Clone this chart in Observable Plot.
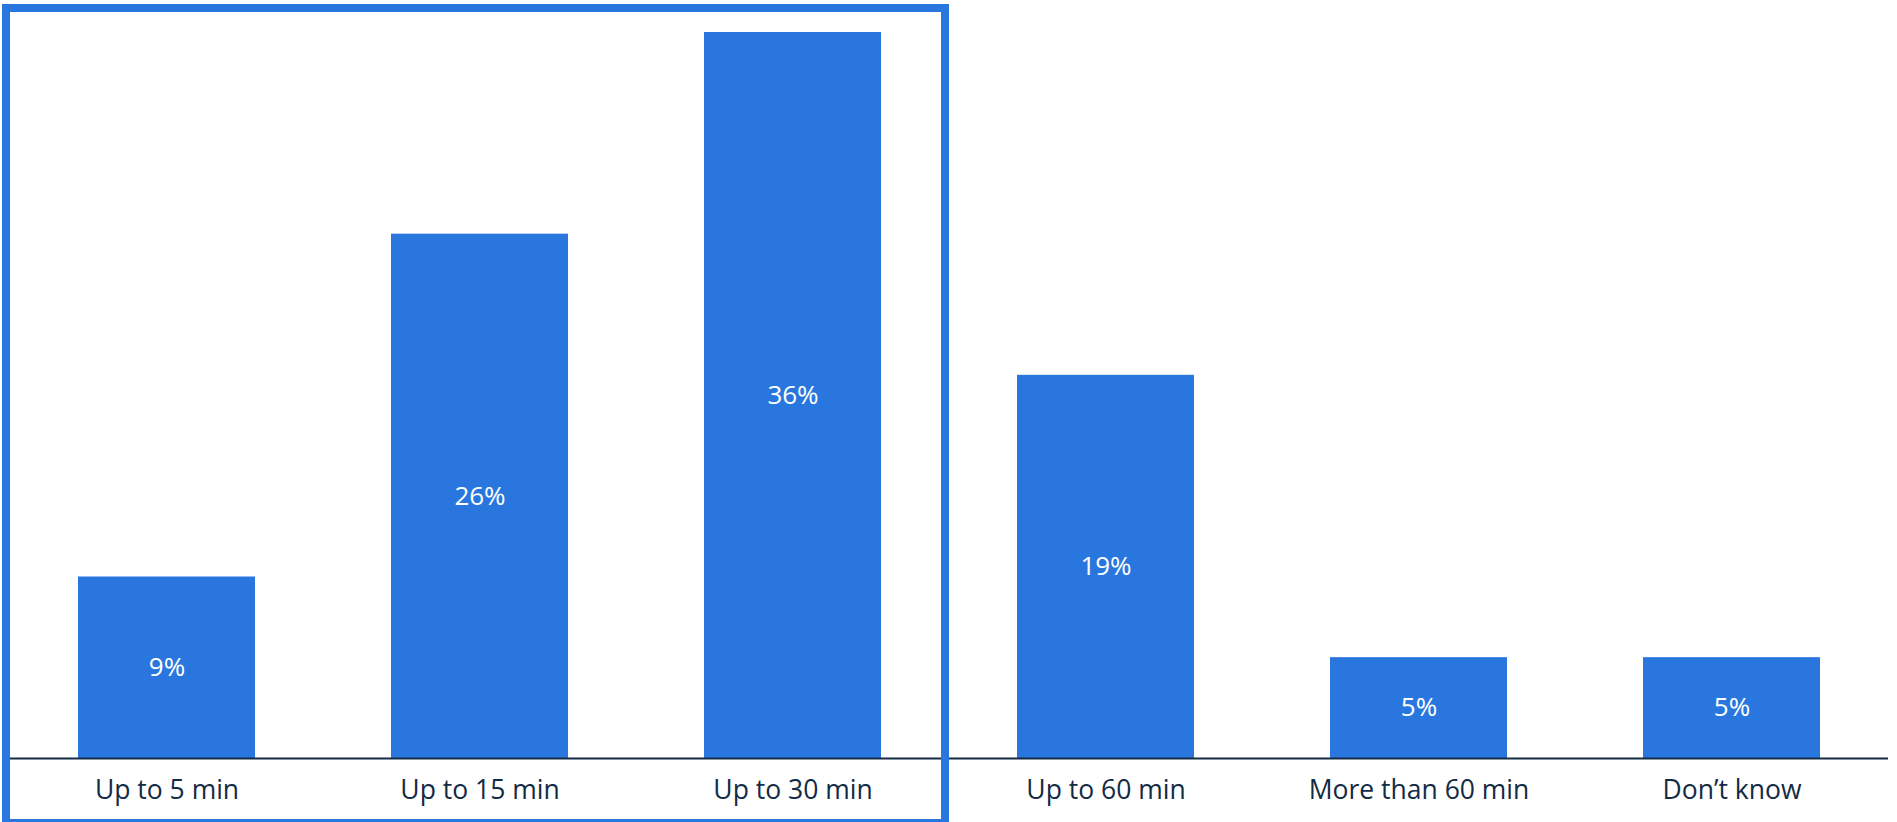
<!DOCTYPE html>
<html>
<head>
<meta charset="utf-8">
<script src="https://cdn.jsdelivr.net/npm/d3@7"></script>
<script src="https://cdn.jsdelivr.net/npm/@observablehq/plot@0.6"></script>
<style>
  html, body { margin: 0; padding: 0; background: #fff; overflow: hidden; }
  #chart svg { display: block; }
</style>
</head>
<body>
<div id="chart"></div>
<script>
// Response categories and shares (percent)
const categories = ["Up to 5 min", "Up to 15 min", "Up to 30 min", "Up to 60 min", "More than 60 min", "Don’t know"];
const shares = [9, 26, 36, 19, 5, 5];
// The first three categories are framed as a group
const highlighted = ["Up to 5 min", "Up to 15 min", "Up to 30 min"];

const data = categories.map((category, i) => ({category, share: shares[i]}));

const barColor = "#2977de";
const inkColor = "#132b45";
const font = "'Open Sans', 'Noto Sans', sans-serif";

// Frame around the highlighted group, spanning their full band steps
function groupFrame(index, scales, values, dimensions) {
  const x = scales.x;
  const bw = x.bandwidth ? x.bandwidth() : 0;
  const step = x(categories[1]) - x(categories[0]);
  const gap = (step - bw) / 2;
  const left = x(highlighted[0]) - gap;
  const right = x(highlighted[highlighted.length - 1]) + bw + gap;
  const sw = 8;
  const rect = document.createElementNS("http://www.w3.org/2000/svg", "rect");
  rect.setAttribute("x", left - sw / 2);
  rect.setAttribute("y", sw);
  rect.setAttribute("width", right - left);
  rect.setAttribute("height", dimensions.height - sw + 1);
  rect.setAttribute("fill", "none");
  rect.setAttribute("stroke", barColor);
  rect.setAttribute("stroke-width", sw);
  return rect;
}

const chart = Plot.plot({
  width: 1897,
  height: 822,
  marginTop: 32,
  marginBottom: 64,
  marginLeft: 10,
  marginRight: 9,
  style: {fontFamily: font, fontSize: "26px", color: inkColor, background: "#fff"},
  x: {domain: categories, paddingInner: 0.435, paddingOuter: 0.2175, label: null},
  y: {domain: [0, 36], axis: null},
  marks: [
    Plot.barY(data, {x: "category", y: "share", fill: barColor}),
    Plot.text(data, {
      x: "category",
      y: d => d.share / 2,
      text: d => `${d.share}%`,
      fill: "#fff",
      fontSize: 26
    }),
    Plot.ruleY([0], {stroke: inkColor, strokeWidth: 2}),
    Plot.axisX({tickSize: 0, tickPadding: 22, fontSize: 26.5, fill: inkColor, label: null}),
    groupFrame
  ]
});

document.getElementById("chart").appendChild(chart);
</script>
</body>
</html>
